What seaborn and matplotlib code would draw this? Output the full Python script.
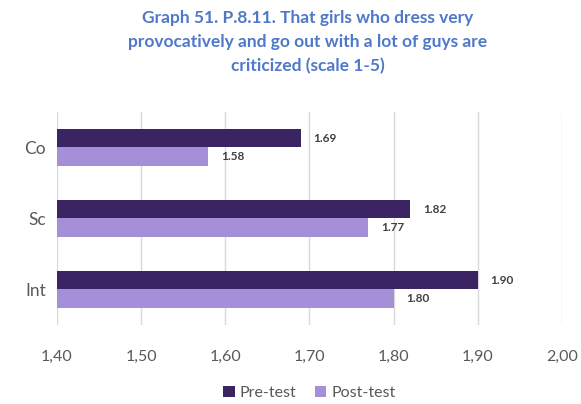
import seaborn as sns
import matplotlib.pyplot as plt
import pandas as pd

categories = ['Co', 'Sc', 'Int']
pre_test = [1.69, 1.82, 1.90]
post_test = [1.58, 1.77, 1.80]
series_names = ['Pre-test', 'Post-test']
x_ticks = [1.40, 1.50, 1.60, 1.70, 1.80, 1.90, 2.00]

df = pd.DataFrame({
    'group': categories * 2,
    'test': [series_names[0]] * 3 + [series_names[1]] * 3,
    'score': pre_test + post_test,
})

sns.set_style('white')
plt.rcParams['font.family'] = ['Lato', 'DejaVu Sans']

fig = plt.figure(figsize=(5.81, 4.04), dpi=100)
ax = fig.add_axes([0.098, 0.196, 0.869, 0.527])

palette = {'Pre-test': '#3a2463', 'Post-test': '#a58fd8'}
sns.barplot(data=df, y='group', x='score', hue='test', palette=palette,
            orient='h', width=0.52, saturation=1, linewidth=0,
            ax=ax, legend=True)

ax.set_xlim(1.40, 2.00)
ax.set_ylim(2.5, -0.5)
ax.set_xticks(x_ticks)
ax.set_xticklabels([f'{t:.2f}'.replace('.', ',') for t in x_ticks],
                   color='#595959', fontsize=11.5)
ax.tick_params(axis='x', length=4, color='#d0d0d0', pad=14)
ax.tick_params(axis='y', length=0, labelsize=12.5, labelcolor='#595959', pad=8)
ax.grid(axis='x', color='#d9d9d9', linewidth=1)
ax.set_axisbelow(True)
for s in ax.spines.values():
    s.set_visible(False)
ax.set_xlabel('')
ax.set_ylabel('')

# value labels
for container in ax.containers:
    ax.bar_label(container, fmt='%.2f', padding=9, fontsize=8.5,
                 fontweight='bold', color='#404040')

handles, labels = ax.get_legend_handles_labels()
ax.legend(handles, labels, loc='upper center', bbox_to_anchor=(0.5, -0.22),
          ncol=2, frameon=False, fontsize=11.5, handlelength=0.7,
          handleheight=0.7, columnspacing=1.2, handletextpad=0.3,
          labelcolor='#595959')

fig.suptitle('Graph 51. P.8.11. That girls who dress very\n'
             'provocatively and go out with a lot of guys are\n'
             'criticized (scale 1-5)',
             x=0.53, y=0.975, fontsize=12.5, fontweight='bold',
             color='#4f78c8', linespacing=1.6)

fig.savefig('out.png', dpi=100)
